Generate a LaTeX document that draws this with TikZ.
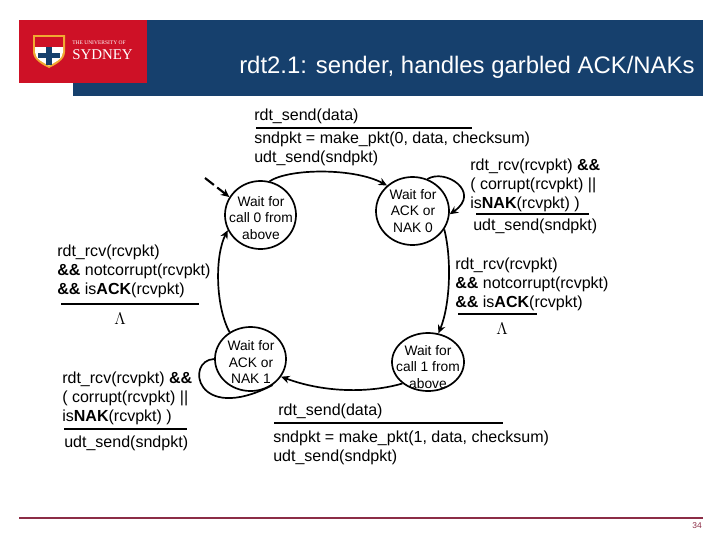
\documentclass[tikz,border=0pt]{standalone}
\usepackage{fontspec}
\setmainfont{Liberation Sans}
\newfontfamily\logoserif{Liberation Serif}
\usetikzlibrary{shapes.geometric, arrows.meta}
\definecolor{sydblue}{RGB}{22, 64, 109}
\definecolor{sydred}{RGB}{206, 17, 38}
\definecolor{sydgold}{RGB}{240, 170, 50}
\definecolor{footred}{RGB}{140, 45, 70}
\tikzset{
  statebox/.style={draw, ellipse, line width=1.2pt, inner sep=0pt},
  statetext/.style={align=center, font=\fontsize{9.8}{12}\selectfont},
  guard/.style={anchor=west, align=left, inner sep=0pt, font=\fontsize{11.4}{13.6}\selectfont},
  rulebar/.style={line width=1.4pt},
  edge/.style={line width=1.2pt, -{Stealth[length=6pt, width=5.5pt]}},
  noedge/.style={line width=1.2pt}
}
\begin{document}
\begin{tikzpicture}[x=0.025cm, y=-0.025cm]
  \useasboundingbox (0, 0) rectangle (720, 540);

  % Banner
  \fill[sydblue] (73, 20) rectangle (703, 96);
  \fill[sydred] (19, 20) rectangle (147, 83);
  \node[anchor=west, inner sep=0pt, text=white, font=\fontsize{17}{18}\selectfont] (title) at (239, 67) {rdt2.1: sender, handles garbled ACK/NAKs};

  % Crest
  \fill[sydgold] (33, 35) -- (65, 35) -- (65, 52) .. controls (65, 60) and (55, 65) .. (49, 68) .. controls (43, 65) and (33, 60) .. (33, 52) -- cycle;
  \fill[sydred] (35, 37) -- (63, 37) -- (63, 47) -- (35, 47) -- cycle;
  \fill[white] (35, 47) -- (63, 47) -- (63, 52) .. controls (63, 59) and (54, 63) .. (49, 65.5) .. controls (44, 63) and (35, 59) .. (35, 52) -- cycle;
  \fill[sydblue] (46, 47) rectangle (52, 65);
  \fill[sydblue] (38, 53) rectangle (60, 58);
  \node[anchor=west, inner sep=0pt, text=white, font=\logoserif\fontsize{3.9}{4}\selectfont] (logotop) at (72, 43) {THE UNIVERSITY OF};
  \node[anchor=west, inner sep=0pt, text=white, font=\logoserif\fontsize{10.6}{11}\selectfont] (logoname) at (72, 54.5) {SYDNEY};

  % States
  \node[statebox, minimum width=1.775cm, minimum height=1.7cm] (call0) at (260.5, 215) {};
  \node[statebox, minimum width=1.825cm, minimum height=1.7cm] (ack0) at (412.5, 211) {};
  \node[statebox, minimum width=1.775cm, minimum height=1.6cm] (ack1) at (250.5, 359) {};
  \node[statebox, minimum width=1.8cm, minimum height=1.45cm] (call1) at (428, 362) {};
  \node[statetext] (call0text) at (261, 218) {Wait for\\call 0 from\\above};
  \node[statetext] (ack0text) at (413, 211) {Wait for\\ACK or\\NAK 0};
  \node[statetext] (ack1text) at (251, 362) {Wait for\\ACK or\\NAK 1};
  \node[statetext] (call1text) at (428, 367) {Wait for\\call 1 from\\above};

  % Transitions
  \coordinate (start) at (205, 178);
  \draw[edge, dash pattern=on 8pt off 3pt, line width=1.5pt] (start) -- (call0.150);
  \draw[edge] (call0.75) .. controls (290, 168) and (355, 168) .. (ack0.135);
  \draw[edge] (ack0.65) .. controls (445, 168) and (482, 192) .. (ack0.-5);
  \draw[edge] (ack0.-30) .. controls (452, 260) and (450, 305) .. (call1.70);
  \draw[edge] (call1.220) .. controls (370, 393) and (325, 393) .. (ack1.-30);
  \draw[noedge] (ack1.180) .. controls (185, 360) and (195, 425) .. (ack1.-50);
  \draw[edge] (ack1.128) .. controls (215, 305) and (215, 255) .. (call0.205);

  % Top label
  \node[guard] (send0) at (254, 116) {rdt\_send(data)};
  \draw[rulebar] (256, 128) -- (472, 128);
  \node[guard] (action0) at (254, 148.5) {sndpkt = make\_pkt(0, data, checksum)\\udt\_send(sndpkt)};

  % Right labels
  \node[guard] (nak0) at (470, 185.5) {rdt\_rcv(rcvpkt) \textbf{\&\&}\\( corrupt(rcvpkt) ||\\is\textbf{NAK}(rcvpkt) )};
  \draw[rulebar] (476, 214) -- (589, 214);
  \node[guard] (resend0) at (473, 226) {udt\_send(sndpkt)};
  \node[guard] (ack0ok) at (455, 284) {rdt\_rcv(rcvpkt)\\\textbf{\&\&} notcorrupt(rcvpkt)\\\textbf{\&\&} is\textbf{ACK}(rcvpkt)};
  \draw[rulebar] (458, 314) -- (537, 314);
  \node[inner sep=0pt, font=\fontsize{11.5}{12}\selectfont] (lambda0) at (502, 329) {$\Lambda$};

  % Left labels
  \node[guard] (ack1ok) at (57, 271.5) {rdt\_rcv(rcvpkt)\\\textbf{\&\&} notcorrupt(rcvpkt)\\\textbf{\&\&} is\textbf{ACK}(rcvpkt)};
  \draw[rulebar] (61, 304) -- (199, 304);
  \node[inner sep=0pt, font=\fontsize{11.5}{12}\selectfont] (lambda1) at (120, 319) {$\Lambda$};
  \node[guard] (nak1) at (62, 398) {rdt\_rcv(rcvpkt) \textbf{\&\&}\\( corrupt(rcvpkt) ||\\is\textbf{NAK}(rcvpkt) )};
  \draw[rulebar] (64, 429) -- (187, 429);
  \node[guard] (resend1) at (64, 443) {udt\_send(sndpkt)};

  % Bottom label
  \node[guard] (send1) at (278, 411) {rdt\_send(data)};
  \draw[rulebar] (274, 423) -- (503, 423);
  \node[guard] (action1) at (273, 447.5) {sndpkt = make\_pkt(1, data, checksum)\\udt\_send(sndpkt)};

  % Footer
  \draw[footred, line width=1.6pt] (19, 518) -- (703, 518);
  \node[anchor=east, inner sep=0pt, text=footred, font=\fontsize{6}{7}\selectfont] (pagenum) at (702, 526) {34};
\end{tikzpicture}
\end{document}
